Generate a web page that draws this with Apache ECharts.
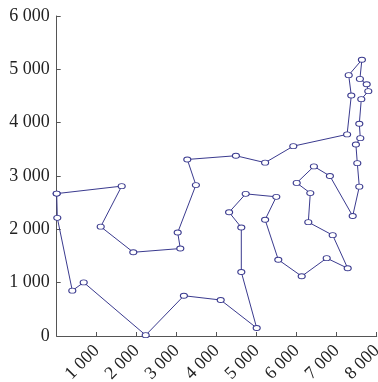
<!DOCTYPE html>
<html>
<head>
<meta charset="utf-8">
<script src="https://cdn.jsdelivr.net/npm/echarts@6/dist/echarts.min.js"></script>
<style>
  html, body { margin: 0; padding: 0; background: #fff; }
  #chart { width: 378px; height: 382px; }
</style>
</head>
<body>
<div id="chart"></div>
<script>
// tour order
const tourX = [0, 1625, 1100, 1915, 3090, 3025, 3480, 3265, 4480, 5210, 5915, 7260,
  7365, 7300, 7630, 7580, 7750, 7790, 7615, 7565, 7590, 7480, 7515, 7565, 7400,
  6830, 6430, 6000, 6340, 6290, 6900, 7275, 6750, 6125, 5540, 5210, 5490, 4725,
  4310, 4615, 4615, 5000, 4100, 3180, 2225, 675, 390, 15];
const tourY = [2670, 2810, 2050, 1570, 1640, 1940, 2830, 3310, 3380, 3250, 3560, 3780,
  4510, 4890, 5180, 4820, 4720, 4590, 4440, 3980, 3710, 3590, 3240, 2800, 2250,
  3000, 3180, 2870, 2680, 2135, 1890, 1270, 1460, 1120, 1430, 2180, 2610, 2665,
  2320, 2035, 1200, 150, 675, 755, 15, 1005, 850, 2215];

const xTicks = [0, 1000, 2000, 3000, 4000, 5000, 6000, 7000, 8000];
const yTicks = [0, 1000, 2000, 3000, 4000, 5000, 6000];

const chartDom = document.getElementById('chart');
const chart = echarts.init(chartDom, null, { renderer: 'canvas' });

// closed tour: back to the first city
const points = tourX.map((x, i) => [x, tourY[i]]);
points.push(points[0]);

// "6 000" style labels
const fmt = (value) => String(value).replace(/\B(?=(\d{3})+(?!\d))/g, ' ');

const axisColor = '#555';
const font = 'Liberation Serif';

const option = {
  animation: false,
  backgroundColor: '#fff',
  // labels run off the bottom edge in the original, so keep the grid fixed
  grid: { left: 56.7, right: 1.3, top: 16, bottom: 46, outerBoundsMode: 'none', containLabel: false },
  xAxis: {
    type: 'value',
    min: xTicks[0],
    max: xTicks[xTicks.length - 1],
    interval: 1000,
    splitLine: { show: false },
    axisLine: { lineStyle: { color: axisColor, width: 1 } },
    axisTick: { inside: true, length: 4, lineStyle: { color: axisColor } },
    axisLabel: {
      rotate: 45,
      margin: 12,
      color: '#222',
      fontFamily: font,
      fontSize: 18,
      showMinLabel: false,
      formatter: (v) => (v === 0 ? '' : fmt(v))
    }
  },
  yAxis: {
    type: 'value',
    min: yTicks[0],
    max: yTicks[yTicks.length - 1],
    interval: 1000,
    splitLine: { show: false },
    axisLine: { lineStyle: { color: axisColor, width: 1 } },
    axisTick: { inside: true, length: 4, lineStyle: { color: axisColor } },
    axisLabel: {
      margin: 7,
      color: '#222',
      fontFamily: font,
      fontSize: 18,
      formatter: fmt
    }
  },
  series: [
    {
      type: 'line',
      data: points,
      symbol: 'circle',
      symbolSize: [7, 5],
      showAllSymbol: true,
      lineStyle: { color: '#3a3a8e', width: 1 },
      itemStyle: { color: '#fff', borderColor: '#3a3a8e', borderWidth: 1 }
    }
  ]
};

option && chart.setOption(option);
</script>
</body>
</html>
